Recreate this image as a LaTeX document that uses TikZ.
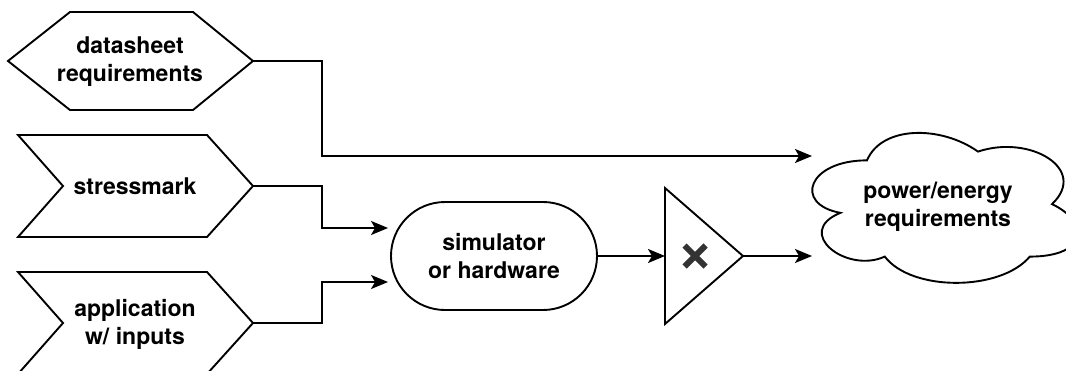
\documentclass[tikz,border=0pt]{standalone}
\usepackage{fontspec}
\setmainfont{TeX Gyre Heros}
\usetikzlibrary{arrows.meta}
\definecolor{xgray}{HTML}{333333}
\tikzset{
  shapeline/.style={draw=black, line width=1.9pt, line join=miter, fill=white},
  conn/.style={draw=black, line width=1.9pt, -{Stealth[length=17pt,width=14pt,inset=4pt]}},
  txt/.style={font=\bfseries\fontsize{23}{28}\selectfont, align=center, inner sep=0pt},
  xstroke/.style={draw=xgray, line width=6pt},
}
\begin{document}
\begin{tikzpicture}[x=1pt,y=-1pt]
\useasboundingbox (0,0) rectangle (1066,370);

% hexagon: datasheet requirements
\draw[shapeline] (8,61) -- (70,12) -- (193,12) -- (253,61) -- (193,110) -- (70,110) -- cycle;
\node[txt] (ds) at (130,62) {datasheet\\requirements};
\coordinate (dsout) at (253,61);

% chevron: stressmark
\draw[shapeline] (18,135) -- (207,135) -- (253,186) -- (207,237) -- (18,237) -- (63,186) -- cycle;
\node[txt] (sm) at (135,186) {stressmark};
\coordinate (smout) at (253,186);

% chevron: application
\draw[shapeline] (18,272) -- (207,272) -- (253,323) -- (207,374) -- (18,374) -- (63,323) -- cycle;
\node[txt] (app) at (135,324) {application\\w/ inputs};
\coordinate (appout) at (253,323);

% simulator or hardware
\node[txt, draw=black, line width=1.9pt, minimum width=206pt, minimum height=108pt,
      rounded corners=54pt] (sim) at (494,256) {simulator\\or hardware};
\coordinate (simin1) at ([xshift=-2pt,yshift=28pt]sim.west);
\coordinate (simin2) at ([xshift=-2pt,yshift=-26pt]sim.west);

% triangle with x
\draw[shapeline] (665,188) -- (743,256) -- (665,324) -- cycle;
\coordinate (triin) at (665,256);
\coordinate (triout) at (743,256);
\coordinate (xc) at (695,256);
\draw[xstroke] ([xshift=-10.5pt,yshift=10.5pt]xc) -- ([xshift=10.5pt,yshift=-10.5pt]xc);
\draw[xstroke] ([xshift=-10.5pt,yshift=-10.5pt]xc) -- ([xshift=10.5pt,yshift=10.5pt]xc);

% cloud
\begin{scope}[shift={(793,116.6)}, x=296pt, y=-175pt]
\draw[shapeline]
  (0.25,0.25) .. controls (0.05,0.25) and (0,0.5) .. (0.16,0.55)
  .. controls (0,0.66) and (0.18,0.9) .. (0.31,0.8)
  .. controls (0.4,1) and (0.7,1) .. (0.8,0.8)
  .. controls (1,0.8) and (1,0.6) .. (0.875,0.5)
  .. controls (1,0.3) and (0.8,0.1) .. (0.625,0.2)
  .. controls (0.5,0.05) and (0.3,0.05) .. (0.25,0.25) -- cycle;
\end{scope}
\node[txt] (pw) at (938,207) {power/energy\\requirements};
\coordinate (cin1) at (812,156);
\coordinate (cin2) at (812,256);

% connectors
\draw[conn] (dsout) -- (322,61) -- (322,156) -- (cin1);
\draw[conn] (smout) -- (322,186) -- (322,228) -- (simin1);
\draw[conn] (appout) -- (322,323) -- (322,282) -- (simin2);
\draw[conn] (sim.east) -- (triin);
\draw[conn] (triout) -- (cin2);
\end{tikzpicture}
\end{document}
